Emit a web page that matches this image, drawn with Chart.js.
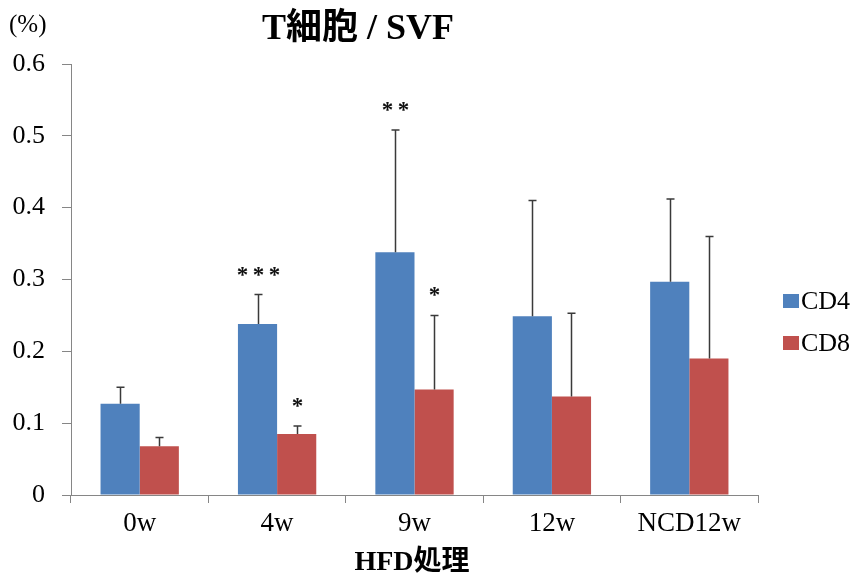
<!DOCTYPE html>
<html>
<head>
<meta charset="utf-8">
<script src="https://cdn.jsdelivr.net/npm/chart.js@4.4.1/dist/chart.umd.min.js"></script>
<style>
  html, body { margin: 0; padding: 0; background: #ffffff; }
  #wrap { width: 855px; height: 580px; position: relative; }
</style>
</head>
<body>
<div id="wrap"><canvas id="c" width="855" height="580"></canvas></div>
<script>
// Groups on the x axis
const categories = ['0w', '4w', '9w', '12w', 'NCD12w'];

// Mean proportion (%) of T cells in the SVF
const cd4 = [0.127, 0.238, 0.338, 0.249, 0.297];
const cd8 = [0.068, 0.085, 0.147, 0.137, 0.190];

// Upper error (SD) for each bar
const cd4Err = [0.023, 0.041, 0.170, 0.161, 0.115];
const cd8Err = [0.012, 0.011, 0.103, 0.116, 0.170];

// Significance marks shown above the error bars
const cd4Sig = ['', '***', '**', '', ''];
const cd8Sig = ['', '*', '*', '', ''];

const yTicks = [0, 0.1, 0.2, 0.3, 0.4, 0.5, 0.6];

const SERIF = '"Liberation Serif", "Times New Roman", "Noto Sans CJK JP", serif';
const AXIS_GRAY = '#868686';
const BLUE = '#4F81BD';
const RED = '#C0504D';

// Draws error whiskers, significance stars, titles and the legend
const decorations = {
  id: 'decorations',
  afterDatasetsDraw(chart) {
    const ctx = chart.ctx;
    const y = chart.scales.y;
    const errs = [cd4Err, cd8Err];
    const sigs = [cd4Sig, cd8Sig];

    ctx.save();
    chart.data.datasets.forEach((ds, di) => {
      const meta = chart.getDatasetMeta(di);
      meta.data.forEach((bar, i) => {
        const topVal = ds.data[i] + errs[di][i];
        const yTop = y.getPixelForValue(topVal);
        const yBar = y.getPixelForValue(ds.data[i]);
        const x = Math.round(bar.x) + 0.5;
        ctx.strokeStyle = '#3a3a3a';
        ctx.lineWidth = 1.5;
        ctx.beginPath();
        ctx.moveTo(x, yBar);
        ctx.lineTo(x, yTop);
        ctx.moveTo(x - 4, yTop);
        ctx.lineTo(x + 4, yTop);
        ctx.stroke();

        const s = sigs[di][i];
        if (s) {
          ctx.fillStyle = '#111';
          ctx.font = 'bold 23px ' + SERIF;
          ctx.textAlign = 'center';
          ctx.textBaseline = 'middle';
          ctx.fillText(s.split('').join('\u2009'), x, yTop - 19);
        }
      });
    });

    // Chart title
    ctx.fillStyle = '#000';
    ctx.textBaseline = 'middle';
    ctx.textAlign = 'center';
    ctx.font = 'bold 36px ' + SERIF;
    ctx.fillText('T細胞 / SVF', 358, 30);

    // Unit label
    ctx.textAlign = 'left';
    ctx.font = '25px ' + SERIF;
    ctx.fillText('(%)', 9, 25);

    // X axis title
    ctx.textAlign = 'center';
    ctx.font = 'bold 28px ' + SERIF;
    ctx.fillText('HFD処理', 412, 563);

    // Legend
    const items = [['CD4', BLUE, 301], ['CD8', RED, 343]];
    ctx.textAlign = 'left';
    ctx.font = '26px ' + SERIF;
    items.forEach(([label, color, cy]) => {
      ctx.fillStyle = color;
      ctx.fillRect(783, cy - 7, 16, 14);
      ctx.fillStyle = '#000';
      ctx.fillText(label, 801, cy + 1);
    });
    ctx.restore();
  }
};

new Chart(document.getElementById('c'), {
  type: 'bar',
  data: {
    labels: categories,
    datasets: [
      { label: 'CD4', data: cd4, backgroundColor: BLUE, borderWidth: 0 },
      { label: 'CD8', data: cd8, backgroundColor: RED, borderWidth: 0 }
    ]
  },
  options: {
    responsive: false,
    animation: false,
    devicePixelRatio: 1,
    layout: { padding: { left: 0, right: 97, top: 64, bottom: 0 } },
    datasets: { bar: { categoryPercentage: 0.57, barPercentage: 1.0 } },
    plugins: {
      legend: { display: false },
      tooltip: { enabled: false },
      title: { display: false }
    },
    scales: {
      x: {
        grid: {
          offset: true,
          drawOnChartArea: false,
          drawTicks: true,
          tickLength: 8,
          color: AXIS_GRAY
        },
        border: { color: AXIS_GRAY, width: 1 },
        ticks: {
          color: '#000',
          padding: 5,
          font: { family: SERIF, size: 27 }
        },
        afterFit(scale) { scale.height = 85; }
      },
      y: {
        min: 0,
        max: 0.6,
        afterBuildTicks(scale) { scale.ticks = yTicks.map(v => ({ value: v })); },
        grid: {
          drawOnChartArea: false,
          drawTicks: true,
          tickLength: 9,
          color: AXIS_GRAY
        },
        border: { color: AXIS_GRAY, width: 1 },
        ticks: {
          color: '#000',
          padding: 17,
          font: { family: SERIF, size: 26 },
          callback: (v) => String(Math.round(v * 10) / 10)
        },
        afterFit(scale) { scale.width = 71; }
      }
    }
  },
  plugins: [decorations]
});
</script>
</body>
</html>
